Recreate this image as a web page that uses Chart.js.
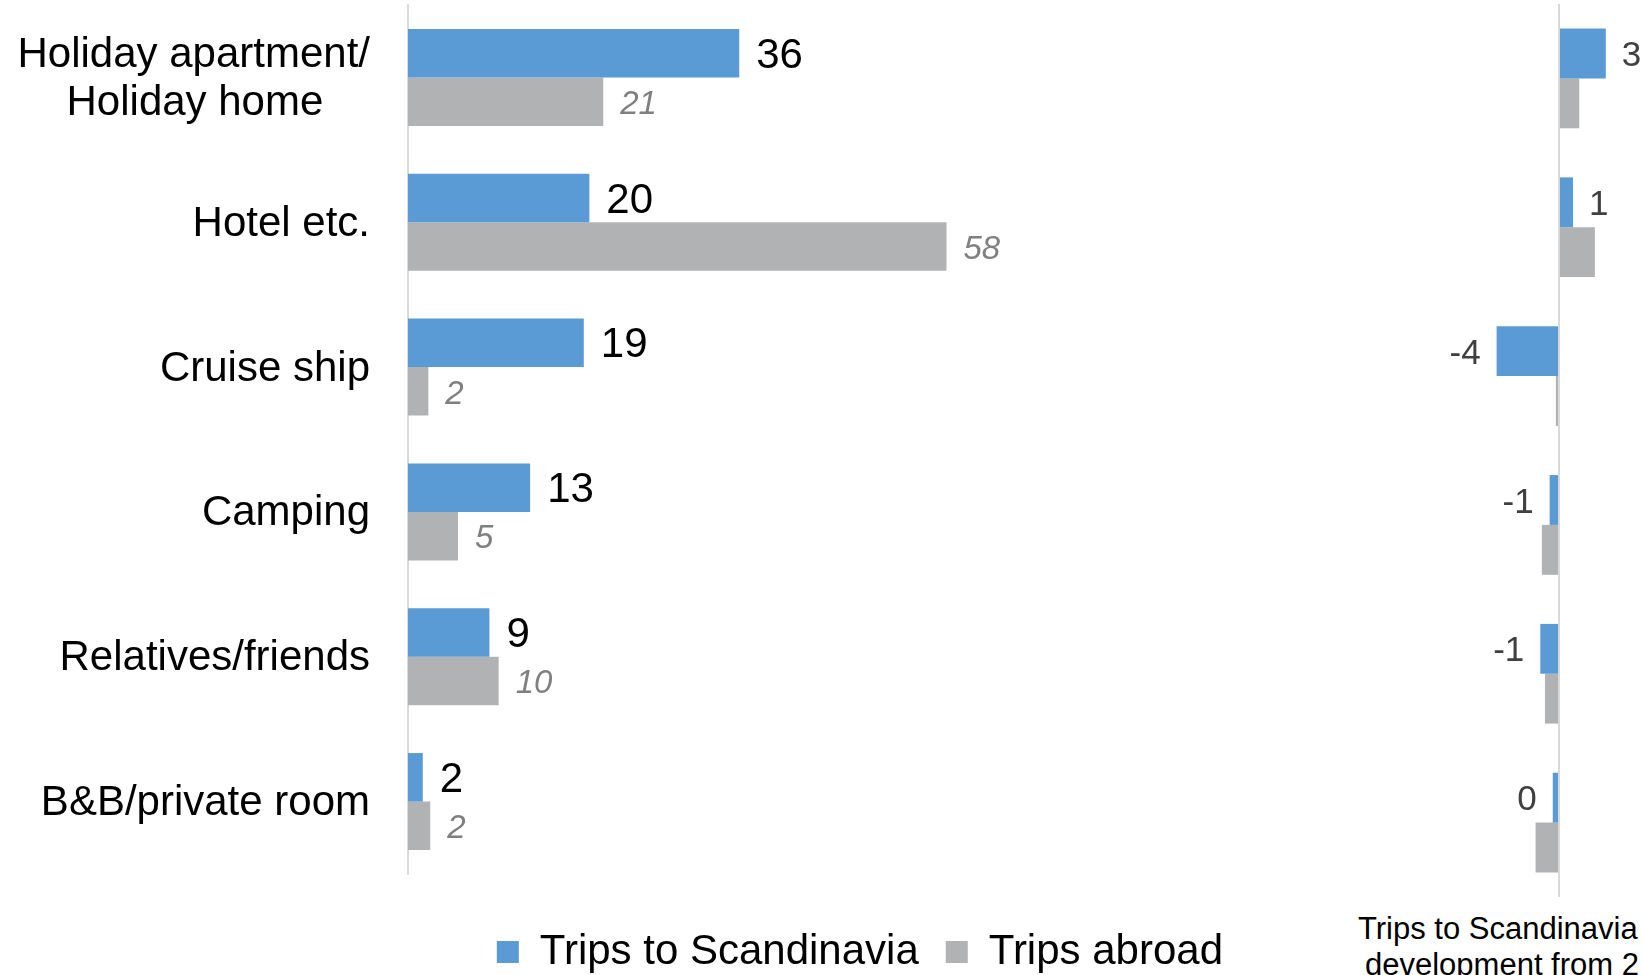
<!DOCTYPE html>
<html>
<head>
<meta charset="utf-8">
<script src="https://cdn.jsdelivr.net/npm/chart.js@4/dist/chart.umd.min.js"></script>
<style>
    html, body { margin: 0; padding: 0; background: #fff; overflow: hidden; width: 1642px; height: 975px; }
    #grafica-tipos { position: absolute; left: 0; top: 0; }
    #grafica-desarrollo { position: absolute; left: 1403px; top: 0; }
    #titulo-desarrollo {
        position: absolute; left: 1358px; top: 911px;
        font: 31px "Liberation Sans", Arial, sans-serif; line-height: 36px;
        white-space: nowrap; color: #000;
    }
</style>
</head>
<body>
<canvas id="grafica-tipos" width="1250" height="983"></canvas>
<canvas id="grafica-desarrollo" width="312" height="900"></canvas>
<div id="titulo-desarrollo">Trips to Scandinavia<br><span style="padding-left:7px">development from 2</span></div>

<script>
const categorias = [['Holiday apartment/', 'Holiday home    '], 'Hotel etc.', 'Cruise ship', 'Camping', 'Relatives/friends', 'B&B/private room']

// share in %
const viajesEscandinavia = [35.8, 19.6, 19.0, 13.2, 8.8, 1.6]
const viajesExtranjero = [21.1, 58.2, 2.2, 5.4, 9.8, 2.4]

// change in percentage points
const cambioEscandinavia = [3.0, 0.9, -4.0, -0.6, -1.2, -0.4]
const cambioExtranjero = [1.3, 2.3, -0.2, -1.1, -0.9, -1.5]

const azul = '#5b9bd5'
const gris = '#b1b2b4'
const fuente = '"Liberation Sans", Arial, sans-serif'

//? etiquetas de valor al final de cada barra
function etiquetas(estilos) {
    return {
        id: 'etiquetas',
        afterDatasetsDraw(chart) {
            const ctx = chart.ctx
            chart.data.datasets.forEach((ds, i) => {
                const st = estilos[i]
                if (!st) return
                chart.getDatasetMeta(i).data.forEach((bar, j) => {
                    const v = ds.data[j]
                    const txt = String(Math.round(v))
                    const y = bar.y + 3
                    ctx.save()
                    ctx.font = st.font
                    ctx.fillStyle = st.color
                    ctx.textBaseline = 'middle'
                    if (v >= 0) {
                        ctx.textAlign = 'left'
                        ctx.fillText(txt, bar.x + st.gap, y)
                    } else {
                        ctx.textAlign = 'right'
                        ctx.fillText(txt, bar.x - st.gap, y)
                    }
                    ctx.restore()
                })
            })
        }
    }
}

//? Grafica principal
const grafTipos = new Chart(document.getElementById('grafica-tipos'), {
    type: 'bar',
    data: {
        labels: categorias,
        datasets: [
            {
                label: 'Trips to Scandinavia',
                data: viajesEscandinavia,
                backgroundColor: azul,
                categoryPercentage: 0.67,
                barPercentage: 1
            },
            {
                label: 'Trips abroad',
                data: viajesExtranjero,
                backgroundColor: gris,
                categoryPercentage: 0.67,
                barPercentage: 1
            }
        ]
    },
    options: {
        indexAxis: 'y',
        responsive: false,
        animation: false,
        layout: { padding: { top: 5 } },
        scales: {
            x: {
                min: 0,
                max: 91,
                ticks: { display: false },
                grid: { display: false },
                border: { display: false },
                afterFit: s => { s.height = 30 }
            },
            y: {
                ticks: { color: '#000', padding: 38, labelOffset: 2, font: { family: fuente, size: 42, lineHeight: 1.14 } },
                grid: { display: false, drawTicks: false },
                border: { display: true, color: '#d9d9d9', width: 2 },
                afterFit: s => {
                    s.width = 408
                    s.paddingTop = 0
                    s.paddingBottom = 0
                }
            }
        },
        plugins: {
            legend: {
                position: 'bottom',
                align: 'end',
                labels: { boxWidth: 22, boxHeight: 22, padding: 27, color: '#000', font: { family: fuente, size: 42 } }
            },
            tooltip: { enabled: false }
        }
    },
    plugins: [etiquetas([
        { font: '42px ' + fuente, color: '#000', gap: 17 },
        { font: 'italic 33px ' + fuente, color: '#808080', gap: 17 }
    ])]
})

//? Grafica de desarrollo
const grafDesarrollo = new Chart(document.getElementById('grafica-desarrollo'), {
    type: 'bar',
    data: {
        labels: categorias,
        datasets: [
            {
                label: 'Trips to Scandinavia',
                data: cambioEscandinavia,
                backgroundColor: azul,
                categoryPercentage: 0.67,
                barPercentage: 1
            },
            {
                label: 'Trips abroad',
                data: cambioExtranjero,
                backgroundColor: gris,
                categoryPercentage: 0.67,
                barPercentage: 1
            }
        ]
    },
    options: {
        indexAxis: 'y',
        responsive: false,
        animation: false,
        layout: { padding: { top: 4, bottom: 3 } },
        scales: {
            x: {
                min: -10,
                max: 10,
                ticks: { display: false, stepSize: 5 },
                grid: {
                    drawTicks: false,
                    lineWidth: 2,
                    color: c => (c.tick && c.tick.value === 0) ? '#d9d9d9' : 'rgba(0,0,0,0)'
                },
                border: { display: false },
                afterFit: s => { s.height = 0 }
            },
            y: { display: false }
        },
        plugins: {
            legend: { display: false },
            tooltip: { enabled: false }
        }
    },
    plugins: [etiquetas([
        { font: '35px ' + fuente, color: '#404040', gap: 16 }
    ])]
})
</script>
</body>
</html>
